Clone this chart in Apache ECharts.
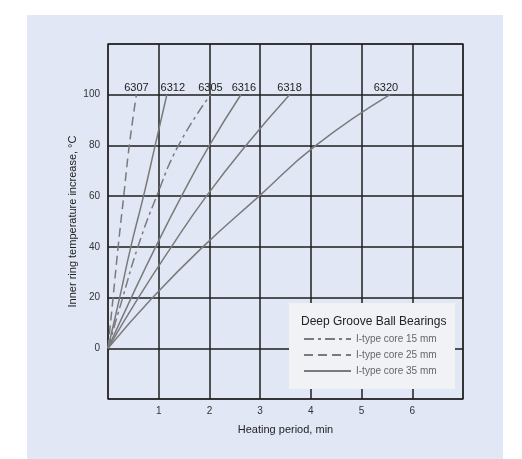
<!DOCTYPE html>
<html>
<head>
<meta charset="utf-8">
<script src="https://cdn.jsdelivr.net/npm/echarts@6/dist/echarts.min.js"></script>
<style>html,body{margin:0;padding:0;background:#fff}#c{width:522px;height:459px}</style>
</head>
<body>
<div id="c"></div>
<script>
// Temperature levels (°C) shared by all curves
var tempLevels = [0, 20, 40, 60, 80, 100];
// Heating period (min) needed to reach each temperature level
var t6307 = [0, 0.10, 0.20, 0.31, 0.42, 0.56];
var t6312 = [0, 0.23, 0.45, 0.70, 0.93, 1.16];
var t6305 = [0, 0.29, 0.59, 0.96, 1.39, 2.02];
var t6316 = [0, 0.46, 0.94, 1.45, 2.00, 2.62];
var t6318 = [0, 0.60, 1.25, 1.94, 2.72, 3.58];
var t6320 = [0, 0.88, 1.87, 2.98, 4.10, 5.56];
var bearingLabels = ['6307', '6312', '6305', '6316', '6318', '6320'];
var coreTypes = ['I-type core 15 mm', 'I-type core 25 mm', 'I-type core 35 mm'];
var xTicks = [1, 2, 3, 4, 5, 6];
var yTicks = [0, 20, 40, 60, 80, 100];
var legendTitle = 'Deep Groove Ball Bearings';

var curves = [
  {label: bearingLabels[0], times: t6307, core: 1, dx: 0},
  {label: bearingLabels[1], times: t6312, core: 2, dx: 6},
  {label: bearingLabels[2], times: t6305, core: 0, dx: 0},
  {label: bearingLabels[3], times: t6316, core: 2, dx: 3},
  {label: bearingLabels[4], times: t6318, core: 2, dx: 0},
  {label: bearingLabels[5], times: t6320, core: 2, dx: -4}
];
var dashTypes = [[10, 4, 3, 4], [9, 5], 'solid'];
var FONT = '"Liberation Sans", Arial, sans-serif';

var series = curves.map(function (c) {
  var data = c.times.map(function (t, i) { return [t, tempLevels[i]]; });
  return {
    type: 'line', name: coreTypes[c.core], data: data,
    symbol: 'none', smooth: 0.5, z: 5,
    lineStyle: {color: '#7a7a7a', width: 1.5, type: dashTypes[c.core]},
    itemStyle: {color: '#7a7a7a'},
    endLabel: {show: true, formatter: c.label, align: 'center', verticalAlign: 'bottom',
      distance: 0, offset: [c.dx, -1], fontSize: 11, color: '#222', fontFamily: FONT}
  };
});

var chart = echarts.init(document.getElementById('c'));
chart.setOption({
  backgroundColor: '#ffffff',
  animation: false,
  textStyle: {fontFamily: FONT},
  graphic: [
    {type: 'rect', z: -10, shape: {x: 27, y: 15, width: 476, height: 444}, style: {fill: '#e1e7f4'}},
    {type: 'rect', z: 50, shape: {x: 289, y: 303, width: 166, height: 86}, style: {fill: '#f1f2f5'}}
  ],
  title: {
    text: legendTitle, left: 301, top: 316, padding: 0, z: 60,
    textStyle: {fontSize: 12, fontWeight: 'normal', color: '#222', fontFamily: FONT}
  },
  legend: {
    data: coreTypes, orient: 'vertical', left: 303, top: 334, padding: 0, z: 60,
    itemWidth: 47, itemHeight: 12, itemGap: 6,
    itemStyle: {color: 'rgba(0,0,0,0)', borderColor: 'rgba(0,0,0,0)', borderWidth: 0, opacity: 0},
    textStyle: {fontSize: 10, color: '#666', fontFamily: FONT}
  },
  grid: {left: 108, top: 44, right: 59, bottom: 60, show: true,
    borderColor: '#5a5a5a', borderWidth: 1.5, backgroundColor: 'transparent'},
  xAxis: {
    type: 'value', min: 0, max: 7, interval: 1,
    name: 'Heating period, min', nameLocation: 'middle', nameGap: 25, nameMoveOverlap: false,
    nameTextStyle: {fontSize: 11, color: '#222'},
    axisLine: {show: false}, axisTick: {show: false},
    axisLabel: {fontSize: 10, color: '#333', margin: 7,
      formatter: function (v) { return xTicks.indexOf(v) >= 0 ? String(v) : ''; }},
    splitLine: {show: true, lineStyle: {color: '#1e1e1e', width: 1.5}}
  },
  yAxis: {
    type: 'value', min: -20, max: 120, interval: 20,
    name: 'Inner ring temperature increase, °C', nameLocation: 'middle', nameGap: 30, nameMoveOverlap: false,
    nameTextStyle: {fontSize: 11, color: '#222'},
    axisLine: {show: false}, axisTick: {show: false},
    axisLabel: {fontSize: 10, color: '#333', margin: 8,
      formatter: function (v) { return yTicks.indexOf(v) >= 0 ? String(v) : ''; }},
    splitLine: {show: true, lineStyle: {color: '#1e1e1e', width: 1.5}}
  },
  series: series
});
</script>
</body>
</html>
